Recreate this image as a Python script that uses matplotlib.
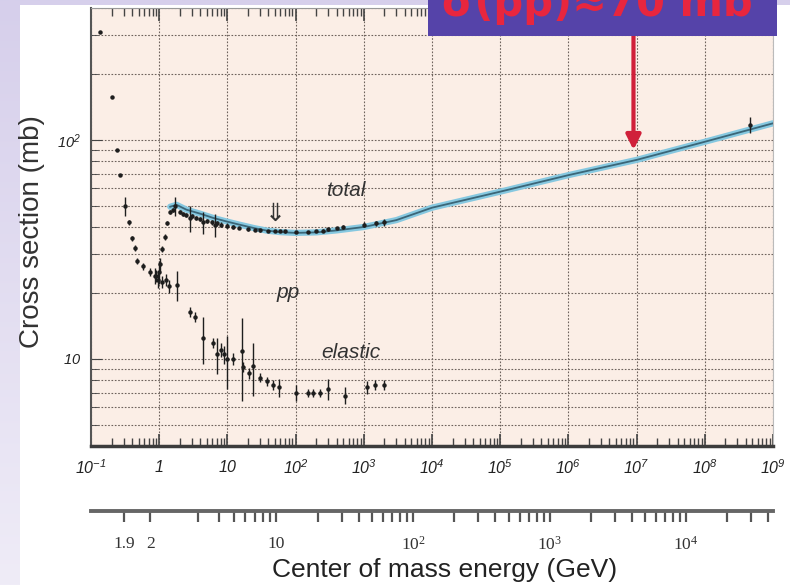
import numpy as np
import matplotlib.pyplot as plt
from matplotlib.patches import Rectangle
from matplotlib.colors import LinearSegmentedColormap
from matplotlib.ticker import LogLocator, NullFormatter

plt.rcParams['font.family'] = 'Liberation Sans'
plt.rcParams['mathtext.fontset'] = 'custom'
plt.rcParams['mathtext.sf'] = 'Liberation Sans:italic'
plt.rcParams['mathtext.rm'] = 'Liberation Serif'

MP = 0.938  # proton mass [GeV]

# fit to total pp cross section: beam momentum [GeV/c], sigma [mb]
fit_p = [1.45, 1.8, 2.5, 4, 6.2, 10, 15, 25, 38, 60, 100, 200, 400,
         1e3, 3e3, 1e4, 1e5, 1e6, 1e7, 1e8, 1e9]
fit_sig = [49.5, 50.5, 48, 46, 44, 42.3, 41, 39.5, 38.5, 37.9, 37.6, 37.8, 38.6,
           40, 43, 49, 58, 69, 81, 98, 119]

# total cross section measurements
tot_p = [0.135, 0.203, 0.24, 0.266, 0.315, 0.36, 0.40, 0.44, 0.47, 0.58, 0.73,
         0.87, 0.95, 1.02, 1.1, 1.2, 1.3, 1.44, 1.6, 1.7, 2.0, 2.2, 2.5, 2.8,
         3.0, 3.5, 4.0, 4.4, 5.0, 6.0, 6.6, 7.0, 8.0, 10, 12, 15, 20, 25, 30,
         40, 50, 60, 70, 100, 150, 200, 250, 300, 400, 500, 1000, 1500, 2000,
         4.6e8]
tot_sig = [311, 157, 90, 69, 50, 42, 35.5, 32, 28, 26.5, 25,
           24, 23, 27, 31.7, 36, 41.8, 47, 48, 50, 47, 46, 45.5, 44,
           45, 44, 43.5, 42, 42.5, 42, 41, 41.5, 41, 40.5, 40, 39.5, 39, 38.8, 38.6,
           38.4, 38.3, 38.3, 38.2, 38.0, 38.0, 38.3, 38.5, 39.0, 39.5, 40, 41, 41.5, 42,
           117]
tot_err = [0, 0, 0, 0, 5, 1, 1, 1, 1, 1, 1,
           2, 2, 2, 1, 1, 1, 1, 1, 5, 1, 1, 1, 6,
           1, 1, 1, 5, 1, 1, 5, 1, 1, 1, 1, 0.5, 0.5, 0.5, 0.5,
           0.5, 0.5, 0.5, 0.5, 0.5, 0.5, 0.5, 0.5, 0.5, 0.5, 0.8, 1, 1, 1.5,
           10]

# elastic cross section measurements
el_p = [0.9, 1.0, 1.1, 1.25, 1.4, 1.8, 2.8, 3.4, 4.4, 6.1, 7.0, 8.0, 9.0, 10,
        12, 16.4, 17, 21, 23.5, 30, 38, 47, 58, 100, 150, 180, 230, 300, 530,
        1100, 1450, 2000]
el_sig = [24, 25, 22.5, 23, 21.5, 21.8, 16.4, 15.6, 12.5, 11.8, 10.5, 11, 10.5, 10,
          10, 10.9, 9.2, 8.6, 9.3, 8.2, 7.9, 7.6, 7.4, 7.0, 7.0, 7.0, 7.0, 7.3, 6.8,
          7.4, 7.6, 7.6]
el_err = [1.5, 3, 1.5, 1.5, 1.5, 3.5, 0.8, 0.8, 3, 0.6, 2, 0.8, 1, 2.7,
          0.6, 4.5, 0.5, 0.5, 2.5, 0.4, 0.4, 0.4, 0.7, 0.6, 0.3, 0.3, 0.3, 0.8, 0.6,
          0.5, 0.4, 0.4]

# labelled ticks of the centre-of-mass energy scale [GeV]
rts_labels = {1.9: '1.9', 2: '2', 10: '10', 100: r'$\mathrm{10^{2}}$',
              1000: r'$\mathrm{10^{3}}$', 10000: r'$\mathrm{10^{4}}$'}


def plab_to_rts(p):
    p = np.asarray(p, dtype=float)
    return np.sqrt(2 * MP**2 + 2 * MP * np.sqrt(p**2 + MP**2))


def rts_to_plab(w):
    w = np.asarray(w, dtype=float)
    e = (w**2 - 2 * MP**2) / (2 * MP)
    return np.sqrt(np.clip(e**2 - MP**2, 1e-12, None))


fig = plt.figure(figsize=(7.9, 5.85), dpi=100)

# slide background: lavender strip on the left, white panel
bg = fig.add_axes([0, 0, 1, 1], zorder=-5)
grad = np.linspace(0, 1, 256).reshape(-1, 1)
bg.imshow(grad, aspect='auto', extent=[0, 1, 0, 1], origin='lower',
          cmap=LinearSegmentedColormap.from_list('lav', ['#efecf7', '#d6cfeb']))
bg.add_patch(Rectangle((20 / 790, 0), 1, 580 / 585, color='white', lw=0))
bg.set_xlim(0, 1)
bg.set_ylim(0, 1)
bg.axis('off')

ax = fig.add_axes([91 / 790, 139 / 585, 682 / 790, 438 / 585])
ax.set_facecolor('#fbeee6')
ax.set_xscale('log')
ax.set_yscale('log')
ax.set_xlim(0.1, 1e9)
ax.set_ylim(4, 400)

# fit band
ax.plot(fit_p, fit_sig, color='#86c8e0', lw=4.5, solid_capstyle='round', zorder=3)
ax.plot(fit_p, fit_sig, color='#3b6678', lw=1.3, zorder=4)

# data
ax.errorbar(tot_p, tot_sig, yerr=tot_err, fmt='o', ms=2.2, color='#1e1e1e',
            elinewidth=1.0, capsize=0, zorder=5)
ax.errorbar(el_p, el_sig, yerr=el_err, fmt='o', ms=2.2, color='#1e1e1e',
            elinewidth=1.0, capsize=0, zorder=5)

# grid
ax.grid(True, which='major', axis='x', ls=(0, (1.5, 1.5)), color='#6d625c', lw=0.8)
ax.grid(True, which='both', axis='y', ls=(0, (1.5, 1.5)), color='#6d625c', lw=0.8)

# ticks of the beam momentum axis
decades = list(range(-1, 10))
xt = [10.0**k for k in decades]
xl = []
for k in decades:
    if k == 0:
        xl.append(r'$\mathsf{1}$')
    elif k == 1:
        xl.append(r'$\mathsf{10}$')
    else:
        xl.append(r'$\mathsf{10^{%d}}$' % k)
ax.set_xticks(xt, xl)
ax.xaxis.set_minor_locator(LogLocator(base=10, subs=np.arange(2, 10), numticks=200))
ax.xaxis.set_minor_formatter(NullFormatter())
ax.set_yticks([10, 100], [r'$\mathsf{10}$', r'$\mathsf{10^{2}}$'])
ax.yaxis.set_minor_formatter(NullFormatter())
ax.tick_params(axis='x', which='both', direction='in', top=True, color='#444',
               labelsize=11.5, pad=9, labelcolor='#222')
ax.tick_params(axis='x', which='major', length=9, width=1.2)
ax.tick_params(axis='x', which='minor', length=6, width=1.0)
ax.tick_params(axis='y', which='both', direction='in', color='#444', labelsize=10.5,
               pad=7, labelcolor='#222')
ax.tick_params(axis='y', which='major', length=8)
ax.tick_params(axis='y', which='minor', length=5)
ax.spines['bottom'].set_linewidth(2.5)
ax.spines['bottom'].set_color('#3c3c3c')
ax.spines['left'].set_linewidth(1.5)
ax.spines['left'].set_color('#555')
ax.spines['top'].set_color('#999')
ax.spines['right'].set_color('#bbb')

ax.set_ylabel('Cross section (mb)', fontsize=20, color='#333')
ax.yaxis.set_label_coords(-0.068, 0.49)

# centre-of-mass energy scale
rts_ticks = [1.9] + [k * 10**n for n in range(0, 5) for k in range(1, 10)
                     if 2 <= k * 10**n <= 4e4]
secax = ax.secondary_xaxis(-0.148, functions=(plab_to_rts, rts_to_plab))
secax.set_xticks(rts_ticks, [rts_labels.get(t, '') for t in rts_ticks])
secax.xaxis.set_minor_locator(plt.NullLocator())
secax.tick_params(direction='out', length=8, width=1.6, color='#555',
                  labelsize=12.5, pad=10, labelcolor='#333')
for lab in secax.get_xticklabels():
    lab.set_fontfamily('Liberation Serif')
secax.spines['bottom'].set_linewidth(2.8)
secax.spines['bottom'].set_color('#666')
secax.set_xlabel('Center of mass energy (GeV)', fontsize=19, color='#222', labelpad=3)
secax.xaxis.label.set_x(0.519)

# curve labels
ax.text(550, 59, 'total', fontsize=15, style='italic', color='#333', ha='center', va='center')
ax.text(78, 20, 'pp', fontsize=15, style='italic', color='#333', ha='center', va='center')
ax.text(650, 10.7, 'elastic', fontsize=15, style='italic', color='#333', ha='center', va='center')
ax.text(51, 46, '\u21d3', fontsize=18, color='#333', ha='center', va='center',
        family='DejaVu Sans')

# highlighted value
fig.patches.append(Rectangle((428 / 790, 549 / 585), 349 / 790, 36 / 585,
                             transform=fig.transFigure, color='#5543a9', lw=0,
                             zorder=10))
fig.text(597 / 790, 569 / 585, '\u03c3(pp)\u224870 mb', color='#e8263e',
         fontsize=30, fontweight='bold', ha='center', va='baseline',
         family='DejaVu Sans', zorder=11)
ax.annotate('', xy=(9e6, 90), xytext=(9e6, 300),
            arrowprops=dict(arrowstyle='-|>', color='#d0203a', lw=3,
                            mutation_scale=22, shrinkA=0, shrinkB=0),
            zorder=6)

fig.savefig('out.png', dpi=100)
